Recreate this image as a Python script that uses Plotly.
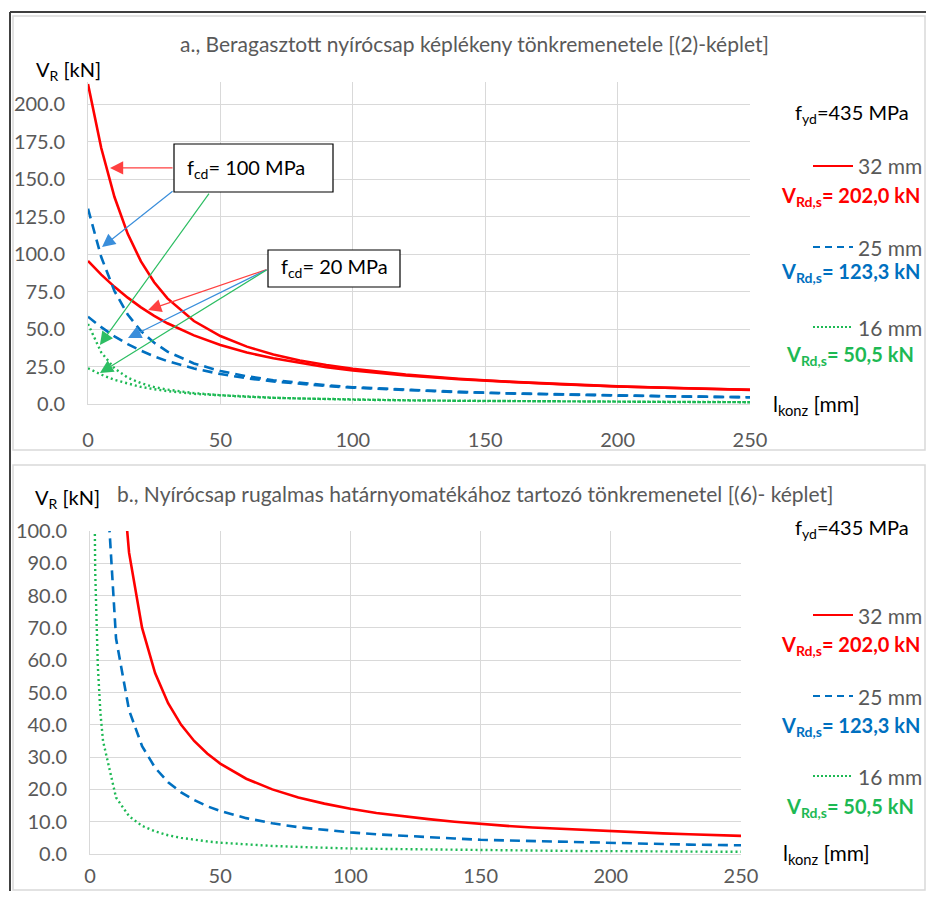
import plotly.graph_objects as go

# ---------------- data ----------------
# a) plastic failure, l_konz [mm] vs V_R [kN]
l_a = [0, 5, 10, 15, 20, 25, 30, 40, 50, 60, 70, 80, 90, 100, 120, 140, 160, 180, 200, 225, 250]
a_32_fcd100 = [213.6, 170.9, 138.2, 113.6, 95.2, 81.3, 70.5, 55.4, 45.4, 38.3, 33.1, 29.1, 26.0, 23.5, 19.6, 16.9, 14.8, 13.1, 11.8, 10.5, 9.5]
a_32_fcd20 = [95.5, 86.4, 78.2, 71.0, 64.5, 58.9, 53.9, 45.8, 39.4, 34.4, 30.5, 27.3, 24.6, 22.4, 19.0, 16.5, 14.5, 13.0, 11.7, 10.4, 9.4]
a_25_fcd100 = [130.4, 98.1, 75.4, 59.7, 48.7, 40.9, 35.0, 27.1, 22.0, 18.5, 15.9, 14.0, 12.5, 11.2, 9.4, 8.1, 7.1, 6.3, 5.7, 5.0, 4.5]
a_25_fcd20 = [58.3, 51.3, 45.2, 40.0, 35.6, 31.8, 28.6, 23.7, 20.0, 17.2, 15.1, 13.4, 12.0, 10.9, 9.2, 7.9, 7.0, 6.2, 5.6, 5.0, 4.5]
a_16_fcd100 = [53.4, 34.5, 23.8, 17.6, 13.9, 11.3, 9.6, 7.3, 5.9, 4.9, 4.2, 3.7, 3.3, 3.0, 2.5, 2.1, 1.9, 1.6, 1.5, 1.3, 1.2]
a_16_fcd20 = [23.9, 19.6, 16.1, 13.5, 11.4, 9.9, 8.6, 6.8, 5.6, 4.8, 4.1, 3.6, 3.2, 2.9, 2.4, 2.1, 1.8, 1.6, 1.5, 1.3, 1.2]

# b) elastic moment failure
l_b = [1, 2, 3, 4, 5, 10, 15, 20, 25, 30, 35, 40, 45, 50, 60, 70, 80, 90, 100, 110, 120,
       130, 140, 150, 160, 170, 180, 190, 200, 210, 220, 230, 240, 250]
b_32 = [1399.5, 699.8, 466.5, 349.9, 279.9, 140.0, 93.3, 70.0, 56.0, 46.7, 40.0, 35.0, 31.1, 28.0,
        23.3, 20.0, 17.5, 15.6, 14.0, 12.7, 11.7, 10.8, 10.0, 9.3, 8.7, 8.2, 7.8, 7.4, 7.0, 6.7,
        6.4, 6.1, 5.8, 5.6]
b_25 = [667.3, 333.7, 222.4, 166.8, 133.5, 66.7, 44.5, 33.4, 26.7, 22.2, 19.1, 16.7, 14.8, 13.3,
        11.1, 9.5, 8.3, 7.4, 6.7, 6.1, 5.6, 5.1, 4.8, 4.4, 4.2, 3.9, 3.7, 3.5, 3.3, 3.2, 3.0,
        2.9, 2.8, 2.7]
b_16 = [174.9, 87.5, 58.3, 43.7, 35.0, 17.5, 11.7, 8.7, 7.0, 5.8, 5.0, 4.4, 3.9, 3.5, 2.9, 2.5,
        2.2, 1.9, 1.7, 1.6, 1.5, 1.3, 1.2, 1.2, 1.1, 1.0, 1.0, 0.9, 0.9, 0.8, 0.8, 0.8, 0.7, 0.7]

x_ticks = [0, 50, 100, 150, 200, 250]
y_ticks_a = [0, 25, 50, 75, 100, 125, 150, 175, 200]
y_ticks_b = [0, 10, 20, 30, 40, 50, 60, 70, 80, 90, 100]

title_a = "a., Beragasztott nyírócsap képlékeny tönkremenetele [(2)-képlet]"
title_b = "b., Nyírócsap rugalmas határnyomatékához tartozó tönkremenetel [(6)- képlet]"
diam_labels = ["32 mm", "25 mm", "16 mm"]
vrd_labels = ["V<sub>Rd,s</sub>= 202,0 kN", "V<sub>Rd,s</sub>= 123,3 kN", "V<sub>Rd,s</sub>= 50,5 kN"]

# ---------------- styling ----------------
PAGE_W, PAGE_H, BODY = 934, 899, 8          # browser body margin is 8 px
W, H = PAGE_W - 2 * BODY, PAGE_H - 2 * BODY
FONT = "Lato"
RED, BLUE, GREEN = "#FF0000", "#0070C0", "#1DB954"
GRID = "#D9D9D9"
TXT = "#595959"
styles = [dict(color=RED, width=2.6, dash="solid"),
          dict(color=BLUE, width=2.6, dash="10px,6px"),
          dict(color=GREEN, width=2.4, dash="2px,3px")]


def px(x):
    return (x - BODY) / W


def py(y):
    return 1 - (y - BODY) / H


fig = go.Figure()
series_a = [(a_32_fcd100, 0), (a_32_fcd20, 0), (a_25_fcd100, 1), (a_25_fcd20, 1),
            (a_16_fcd100, 2), (a_16_fcd20, 2)]
for vals, s in series_a:
    fig.add_trace(go.Scatter(x=l_a, y=vals, mode="lines", line=styles[s],
                             xaxis="x", yaxis="y", showlegend=False, hoverinfo="skip"))
for vals, s in [(b_32, 0), (b_25, 1), (b_16, 2)]:
    fig.add_trace(go.Scatter(x=l_b, y=vals, mode="lines", line=styles[s],
                             xaxis="x2", yaxis="y2", showlegend=False, hoverinfo="skip"))

axis_common = dict(showgrid=True, gridcolor=GRID, gridwidth=1, zeroline=False,
                   showline=True, linecolor=GRID, linewidth=1, ticks="", automargin=False,
                   tickfont=dict(family=FONT, size=20, color=TXT))

fig.update_layout(
    width=W, height=H, margin=dict(l=0, r=0, t=0, b=0, pad=0, autoexpand=False),
    paper_bgcolor="white", plot_bgcolor="white",
    font=dict(family=FONT),
    xaxis=dict(domain=[px(88), px(750)], range=[0, 250], tickvals=x_ticks,
               anchor="y", ticklabelstandoff=18, **axis_common),
    yaxis=dict(domain=[py(404), py(82)], range=[0, 215], tickvals=y_ticks_a,
               tickformat=".1f", anchor="x", ticklabelstandoff=18, **axis_common),
    xaxis2=dict(domain=[px(90), px(741)], range=[0, 250], tickvals=x_ticks,
                anchor="y2", ticklabelstandoff=4, **axis_common),
    yaxis2=dict(domain=[py(854), py(531)], range=[0, 100], tickvals=y_ticks_b,
                tickformat=".1f", anchor="x2", ticklabelstandoff=18, **axis_common),
)

shapes = []
# panel frames
for (x0, y0, x1, y1) in [(13, 16, 925, 450), (13, 465, 925, 890)]:
    shapes.append(dict(type="rect", xref="paper", yref="paper", x0=px(x0), x1=px(x1),
                       y0=py(y1), y1=py(y0), line=dict(color=GRID, width=1.5)))
shapes.append(dict(type="line", xref="paper", yref="paper", x0=px(10), x1=px(10),
                   y0=py(891), y1=py(12), line=dict(color="#404040", width=2)))
shapes.append(dict(type="line", xref="paper", yref="paper", x0=px(10), x1=px(926),
                   y0=py(12), y1=py(12), line=dict(color="#404040", width=2)))
# callout boxes
for (x0, y0, x1, y1) in [(174, 144, 333, 192), (268, 250, 400, 287)]:
    shapes.append(dict(type="rect", xref="paper", yref="paper", x0=px(x0), x1=px(x1),
                       y0=py(y1), y1=py(y0), line=dict(color="#000000", width=1.2),
                       fillcolor="white", layer="above"))

ann = []


def text(x, y, t, size=19, color="#000000", xanchor="center", bold=False):
    if bold:
        t = "<b>" + t + "</b>"
    ann.append(dict(xref="paper", yref="paper", x=px(x), y=py(y), text=t, showarrow=False,
                    xanchor=xanchor, yanchor="middle",
                    font=dict(family=FONT, size=size, color=color)))


# titles and axis labels
text(474, 43, title_a, size=21, color=TXT)
text(476, 493, title_b, size=21, color=TXT)
text(34, 70, "V<sub>R</sub> [kN]", size=20, xanchor="left")
text(33, 499, "V<sub>R</sub> [kN]", size=20, xanchor="left")
text(771, 405, "l<sub>konz</sub> [mm]", size=21, xanchor="left")
text(781, 854, "l<sub>konz</sub> [mm]", size=21, xanchor="left")

# right-hand legends
leg_rows = [
    (113, [(166, 197), (247, 273), (327, 355)]),
    (528, [(615, 645), (696, 726), (776, 807)]),
]
colors = [RED, BLUE, GREEN]
for fy, rows in leg_rows:
    text(852, fy, "f<sub>yd</sub>=435 MPa", size=20)
    for i, (ly, vy) in enumerate(rows):
        st = styles[i]
        shapes.append(dict(type="line", xref="paper", yref="paper", x0=px(813), x1=px(853),
                           y0=py(ly), y1=py(ly),
                           line=dict(color=st["color"], width=2,
                                     dash="solid" if i == 0 else ("7px,5px" if i == 1 else "2px,2px"))))
        text(856, ly, diam_labels[i], size=21, color=TXT, xanchor="left")
        text(850, vy, vrd_labels[i], size=20, color=colors[i], bold=True)

# callout texts
text(246, 168, "f<sub>cd</sub>= 100 MPa", size=20)
text(334, 268, "f<sub>cd</sub>= 20 MPa", size=20)

# callout arrows (head on curve, tail at box)
arrows = [
    (8.3, 157.6, 32.5, 157.6, "#FF4040"),
    (5.3, 104.8, 32.5, 142.9, "#3A8EDB"),
    (4.5, 39.4, 46.1, 141.5, "#2DBE63"),
    (22.7, 62.8, 68.0, 90.1, "#FF4040"),
    (15.1, 44.1, 68.0, 90.1, "#3A8EDB"),
    (4.5, 20.7, 68.0, 90.1, "#2DBE63"),
]
for (hx, hy, tx, ty, c) in arrows:
    ann.append(dict(xref="x", yref="y", axref="x", ayref="y", x=hx, y=hy, ax=tx, ay=ty,
                    text="", showarrow=True, arrowhead=2, arrowsize=2.2, arrowwidth=1.2,
                    arrowcolor=c, standoff=0, startstandoff=0))

fig.update_layout(shapes=shapes, annotations=ann)
fig.write_html("out.html")
